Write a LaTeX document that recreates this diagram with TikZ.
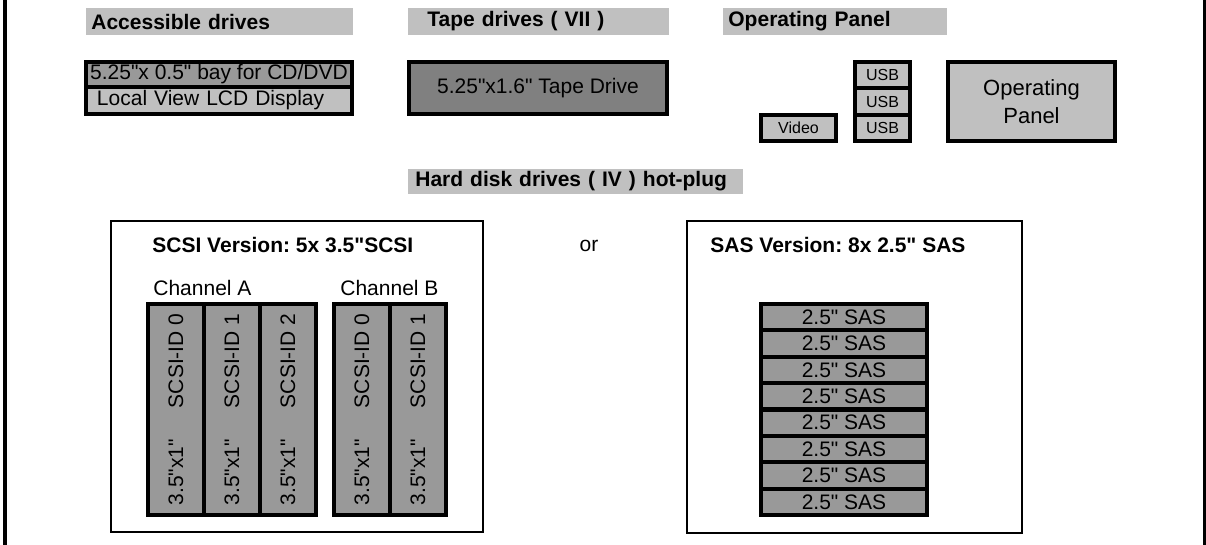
\documentclass[tikz,border=0pt]{standalone}
\usepackage{fontspec}
\setmainfont{Liberation Sans}[Ligatures=TeXOff]
\frenchspacing
\definecolor{hdrgray}{RGB}{192,192,192}
\definecolor{drvgray}{RGB}{153,153,153}
\definecolor{tapegray}{RGB}{128,128,128}

\begin{document}
\begin{tikzpicture}[x=0.5pt, y=-0.5pt,
    every node/.style={font=\fontsize{10.5}{12.6}\selectfont, inner sep=0pt},
    header/.style={fill=hdrgray, anchor=west, align=left, inner xsep=2.5pt,
        font=\fontsize{10.5}{12.6}\selectfont\bfseries, minimum height=13.5pt},
    bay/.style={draw, line width=2pt},
    port/.style={draw, line width=2pt, fill=hdrgray, minimum height=13.17pt,
        font=\fontsize{8}{9.6}\selectfont},
    variant/.style={draw, line width=1pt},
    title/.style={anchor=west, font=\fontsize{10.5}{12.6}\selectfont\bfseries},
    scsi/.style={draw, line width=2pt, fill=drvgray, rotate=90,
        minimum width=105.5pt, minimum height=28pt},
    sas/.style={draw, line width=2pt, fill=drvgray, minimum width=83pt, minimum height=13.19pt}
]
    \useasboundingbox (0,0) rectangle (1206,545);
    \draw[line width=2pt] (5,0) -- (5,545);
    \draw[line width=2pt] (1205,0) -- (1205,545);

    \node[header, text width=128.5pt]                     (hdracc)  at (86,21.5)  {Accessible drives};
    \node[header, text width=125.5pt]                     (hdrtape) at (408,21.5) {\hspace*{7pt}Tape drives ( VII )};
    \node[header, text width=107pt]                       (hdrop)   at (723,21.5) {Operating Panel};
    \node[header, text width=162.5pt, minimum height=12.5pt] (hdrhdd) at (408,181.5) {\hspace*{1pt}Hard disk drives ( IV ) hot-plug};

    \node[bay, fill=drvgray, minimum width=133pt, minimum height=12.5pt]     (cddvd)   at (219,74.5)   {5.25"x 0.5" bay for CD/DVD};
    \node[bay, fill=hdrgray, text width=122pt, inner xsep=5.5pt, align=left,
          minimum height=13.5pt]                                            (lcd)     at (219,100.5)  {Local View LCD Display};
    \node[bay, fill=tapegray, minimum width=129pt, minimum height=26pt]     (tape)    at (538,88)     {5.25"x1.6" Tape Drive};
    \node[port, minimum width=27.5pt]                                       (usba)    at (882.5,75.2) {USB};
    \node[port, minimum width=27.5pt]                                       (usbb)    at (882.5,101.5){USB};
    \node[port, minimum width=27.5pt]                                       (usbc)    at (882.5,127.8){USB};
    \node[port, minimum width=37.5pt, minimum height=13pt]                  (video)   at (798.5,128)  {Video};
    \node[bay, fill=hdrgray, minimum width=83.5pt, minimum height=39.5pt, align=center,
          font=\fontsize{11}{14}\selectfont]                                (oppanel) at (1031.5,101.5) {Operating\\Panel};

    \node[variant, minimum width=186pt, minimum height=155.5pt]   (scsibox)   at (297,376.5) {};
    \node[variant, minimum width=167.5pt, minimum height=156pt]   (sasbox)    at (854.5,377) {};
    \node[title]                                                  (scsititle) at (152,245)   {SCSI Version: 5x 3.5"SCSI};
    \node[title]                                                  (sastitle)  at (710,245)   {SAS Version: 8x 2.5" SAS};
    \node                                                         (ornote)    at (589,246)   {or};
    \node[anchor=west]                                            (chana)     at (153,288)   {Channel A};
    \node[anchor=west]                                            (chanb)     at (340,288)   {Channel B};

    \node[scsi] (a0) at (176,409.5) {\hbox to 96pt{3.5"x1"\hfill SCSI-ID 0}};
    \node[scsi] (a1) at (232,409.5) {\hbox to 96pt{3.5"x1"\hfill SCSI-ID 1}};
    \node[scsi] (a2) at (288,409.5) {\hbox to 96pt{3.5"x1"\hfill SCSI-ID 2}};
    \node[scsi] (b0) at (362,409.5) {\hbox to 96pt{3.5"x1"\hfill SCSI-ID 0}};
    \node[scsi] (b1) at (418,409.5) {\hbox to 96pt{3.5"x1"\hfill SCSI-ID 1}};

    \node[sas] (sas1) at (844,317.2) {2.5" SAS};
    \node[sas] (sas2) at (844,343.6) {2.5" SAS};
    \node[sas] (sas3) at (844,369.9) {2.5" SAS};
    \node[sas] (sas4) at (844,396.3) {2.5" SAS};
    \node[sas] (sas5) at (844,422.7) {2.5" SAS};
    \node[sas] (sas6) at (844,449.1) {2.5" SAS};
    \node[sas] (sas7) at (844,475.4) {2.5" SAS};
    \node[sas] (sas8) at (844,501.8) {2.5" SAS};
\end{tikzpicture}
\end{document}
